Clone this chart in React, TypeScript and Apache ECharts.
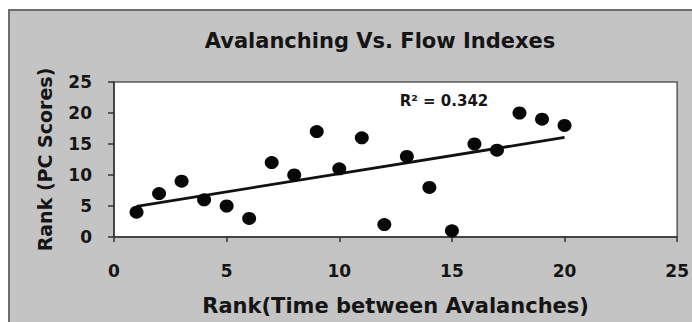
import React, { useEffect, useRef } from "react";
import * as echarts from "echarts";

const xRank: number[] = [1, 2, 3, 4, 5, 6, 7, 8, 9, 10, 11, 12, 13, 14, 15, 16, 17, 18, 19, 20];
const yRank: number[] = [4, 7, 9, 6, 5, 3, 12, 10, 17, 11, 16, 2, 13, 8, 1, 15, 14, 20, 19, 18];
const axisTicks: number[] = [0, 5, 10, 15, 20, 25];
const titleText = "Avalanching Vs. Flow Indexes";
const xName = "Rank(Time between Avalanches)";
const yName = "Rank (PC Scores)";
const r2Text = "R\u00B2 = 0.342";

const FONT = "'DejaVu Sans', 'Liberation Sans', Arial, sans-serif";

function linearFit(xs: number[], ys: number[]) {
  const n = xs.length;
  const mx = xs.reduce((a, b) => a + b, 0) / n;
  const my = ys.reduce((a, b) => a + b, 0) / n;
  let sxy = 0;
  let sxx = 0;
  for (let i = 0; i < n; i++) {
    sxy += (xs[i] - mx) * (ys[i] - my);
    sxx += (xs[i] - mx) * (xs[i] - mx);
  }
  const slope = sxy / sxx;
  return { slope, intercept: my - slope * mx };
}

export default function App() {
  const ref = useRef<HTMLDivElement>(null);

  useEffect(() => {
    if (!ref.current) return;
    const chart = echarts.init(ref.current, null, { renderer: "svg" });
    const fit = linearFit(xRank, yRank);
    const x0 = Math.min(...xRank);
    const x1 = Math.max(...xRank);
    const trend = [
      [x0, fit.intercept + fit.slope * x0],
      [x1, fit.intercept + fit.slope * x1],
    ];
    const points = xRank.map((x, i) => [x, yRank[i]]);

    chart.setOption({
      animation: false,
      backgroundColor: "#ffffff",
      textStyle: { fontFamily: FONT },
      title: {
        text: titleText,
        left: 375,
        top: 25,
        textAlign: "center",
        textStyle: { fontFamily: FONT, fontSize: 21, fontWeight: "bold", color: "#151515" },
      },
      graphic: [
        {
          type: "rect",
          z: -10,
          silent: true,
          shape: { x: 9, y: 10, width: 720, height: 340 },
          style: { fill: "#c4c4c4", stroke: "#6e6e6e", lineWidth: 2 },
        },
        {
          type: "text",
          z: 10,
          x: 444,
          y: 101,
          style: {
            text: r2Text,
            fontFamily: FONT,
            fontSize: 15,
            fontWeight: "bold",
            fill: "#151515",
            textAlign: "center",
            textVerticalAlign: "middle",
          },
        },
      ],
      grid: {
        left: 114,
        right: 12,
        top: 82,
        bottom: 85,
        show: true,
        backgroundColor: "#ffffff",
        borderColor: "#5a5a5a",
        borderWidth: 1.5,
      },
      xAxis: {
        type: "value",
        min: axisTicks[0],
        max: axisTicks[axisTicks.length - 1],
        interval: 5,
        name: xName,
        nameLocation: "middle",
        nameGap: 58,
        nameTextStyle: { fontFamily: FONT, fontSize: 21, fontWeight: "bold", color: "#151515" },
        axisLine: { show: true, onZero: false, lineStyle: { color: "#333333", width: 1.5 } },
        axisTick: { show: true, inside: false, length: 5, lineStyle: { color: "#333333", width: 1.5 } },
        axisLabel: { margin: 25, fontFamily: FONT, fontSize: 17, fontWeight: "bold", color: "#151515" },
        splitLine: { show: false },
      },
      yAxis: {
        type: "value",
        min: axisTicks[0],
        max: axisTicks[axisTicks.length - 1],
        interval: 5,
        name: yName,
        nameLocation: "middle",
        nameRotate: 90,
        nameGap: 60,
        nameTextStyle: { fontFamily: FONT, fontSize: 19, fontWeight: "bold", color: "#151515" },
        axisLine: { show: true, onZero: false, lineStyle: { color: "#333333", width: 1.5 } },
        axisTick: { show: true, inside: false, length: 6, lineStyle: { color: "#333333", width: 1.5 } },
        axisLabel: { margin: 22, fontFamily: FONT, fontSize: 17, fontWeight: "bold", color: "#151515" },
        splitLine: { show: false },
      },
      series: [
        {
          name: "Trend",
          type: "line",
          data: trend,
          symbol: "none",
          lineStyle: { color: "#111111", width: 2.8 },
          z: 2,
        },
        {
          name: "Ranks",
          type: "scatter",
          data: points,
          symbol: "circle",
          symbolSize: [14, 13],
          itemStyle: { color: "#080808", opacity: 1 },
          z: 3,
        },
      ],
    });

    return () => {
      chart.dispose();
    };
  }, []);

  return (
    <div
      ref={ref}
      style={{ position: "fixed", left: 0, top: 0, width: 692, height: 322 }}
    />
  );
}
